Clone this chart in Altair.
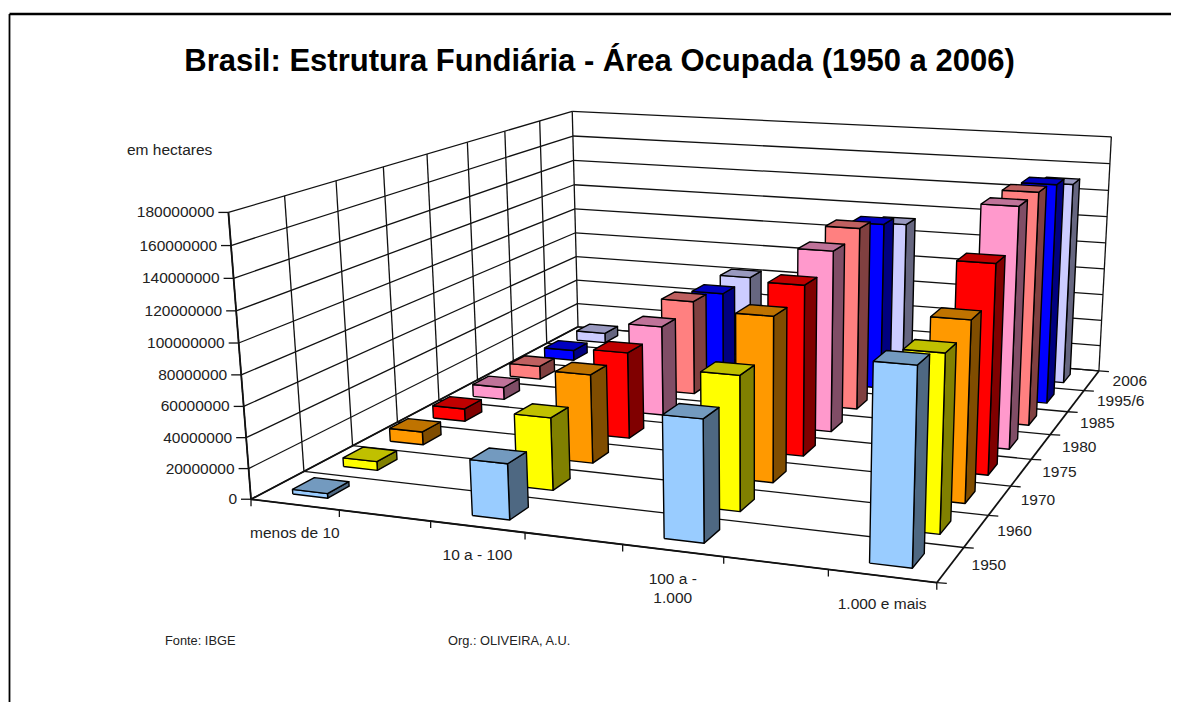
import altair as alt
import numpy as np
import pandas as pd

TITLE = "Brasil: Estrutura Fundiária - Área Ocupada (1950 a 2006)"
CATEGORIES = ["menos de 10", "10 a - 100", ["100 a -", "1.000"], "1.000 e mais"]
YEARS = ["1950", "1960", "1970", "1975", "1980", "1985", "1995/6", "2006"]
V_MENOS_10 = [3025372, 5952381, 9083495, 8982646, 9004259, 9986637, 7882194, 7798607]
V_10_100 = [35562747, 47566290, 60069704, 60171637, 64494343, 69565161, 62693585, 62893091]
V_100_1000 = [75520717, 86029455, 108742676, 115923043, 126799188, 131432667, 123541517, 112696478]
V_1000_MAIS = [118102000, 110314016, 116249591, 138818000, 164556000, 163940463, 159493949, 150143096]
VALUES = [V_MENOS_10, V_10_100, V_100_1000, V_1000_MAIS]
Z_TICKS = [0, 20000000, 40000000, 60000000, 80000000, 100000000, 120000000, 140000000, 160000000, 180000000]
COL_FRONT = ["#99CCFF", "#FFFF00", "#FF9900", "#FF0000", "#FF99CC", "#FF8080", "#0000FF", "#CCCCFF"]
COL_TOP = ["#739ABF", "#C0C000", "#BF7300", "#C00000", "#BF7399", "#BF6060", "#0000C0", "#9999BF"]
COL_SIDE = ["#4E6882", "#808000", "#804D00", "#800000", "#804D66", "#804040", "#000080", "#666680"]

W, H = 1163, 694
ZMAX = 180000000.0
NCELL = 7  # axis cells: categories sit on every other cell

# camera: 3D unit box -> page pixels
anchors3 = [(0, 0, 0), (0, 0, 1), (0, 1, 0), (0, 1, 1), (1, 1, 1), (1, 1, 0), (1, 0, 0), (3 / 7, 0, 0)]
anchors2 = [(250.7, 499.3), (228.5, 211.7), (578, 326.5), (572, 112), (1111.5, 136.7), (1099, 370.7), (936, 583), (526, 533)]
A, b = [], []
for (X, Y, Z), (u, v) in zip(anchors3, anchors2):
    A.append([X, Y, Z, 1, 0, 0, 0, 0, -u * X, -u * Y, -u * Z])
    b.append(u)
    A.append([0, 0, 0, 0, X, Y, Z, 1, -v * X, -v * Y, -v * Z])
    b.append(v)
P = np.append(np.linalg.lstsq(np.array(A, float), np.array(b, float), rcond=None)[0], 1).reshape(3, 4)


def proj(X, Y, Z):
    p = P @ np.array([X, Y, Z, 1.0])
    return float(p[0] / p[2] - 8), float(p[1] / p[2] - 8)


NC, NS = len(VALUES), len(YEARS)
BAR_W, BAR_D = 0.40, 0.42
faces = []
fid = 0
for s in range(NS - 1, -1, -1):
    for c in range(NC):
        x0 = (2 * c + 0.5 - BAR_W / 2) / NCELL
        x1 = (2 * c + 0.5 + BAR_W / 2) / NCELL
        y0 = (s + 0.5 - BAR_D / 2) / NS
        y1 = (s + 0.5 + BAR_D / 2) / NS
        z = VALUES[c][s] / ZMAX
        polys = [
            (COL_SIDE[s], [(x1, y0, 0), (x1, y1, 0), (x1, y1, z), (x1, y0, z)]),
            (COL_FRONT[s], [(x0, y0, 0), (x1, y0, 0), (x1, y0, z), (x0, y0, z)]),
            (COL_TOP[s], [(x0, y0, z), (x1, y0, z), (x1, y1, z), (x0, y1, z)]),
        ]
        for col, pts in polys:
            for i, pt in enumerate(pts + pts[:1]):
                px, py = proj(*pt)
                faces.append(dict(face=f"f{fid:04d}", pt=i, px=px, py=py, col=col))
            fid += 1
faces = pd.DataFrame(faces)

segs = []


def seg(a, b, w=1.3, off=(0, 0)):
    x, y = proj(*a)
    x2, y2 = proj(*b)
    segs.append(dict(x=x, y=y, x2=x2 + off[0], y2=y2 + off[1], w=w))


for t in Z_TICKS:
    z = t / ZMAX
    seg((0, 0, z), (0, 1, z))
    seg((0, 1, z), (1, 1, z))
    seg((0, 0, z), (0, 0, z), off=(-10, 0))
for j in range(NS + 1):
    y = j / NS
    seg((0, y, 0), (0, y, 1))
    seg((0, y, 0), (1, y, 0))
    seg((1, y, 0), (1, y, 0), off=(10, 0.6))
for i in range(NCELL + 1):
    seg((i / NCELL, 0, 0), (i / NCELL, 0, 0), off=(0, 7))
seg((0, 0, 0), (1, 0, 0), 1.8)
seg((0, 0, 0), (0, 1, 0), 1.8)
seg((1, 0, 0), (1, 1, 0), 1.8)
seg((0, 0, 0), (0, 0, 1), 1.8)
seg((1, 1, 0), (1, 1, 1))
segs = pd.DataFrame(segs)

X = alt.X("x:Q", axis=None, scale=alt.Scale(domain=[0, W], nice=False, zero=False))
Y = alt.Y("y:Q", axis=None, scale=alt.Scale(domain=[H, 0], nice=False, zero=False))

# frame
frame = pd.DataFrame([
    dict(x=1.5, y=6, x2=W, y2=6, w=2.4),
    dict(x=1.5, y=6, x2=1.5, y2=H, w=1.8),
])
frame_layer = alt.Chart(frame).mark_rule(color="black").encode(
    X, Y, x2="x2:Q", y2="y2:Q", strokeWidth=alt.StrokeWidth("w:Q", scale=None))

grid_layer = alt.Chart(segs).mark_rule(color="#111111").encode(
    X, Y, x2="x2:Q", y2="y2:Q", strokeWidth=alt.StrokeWidth("w:Q", scale=None))

bar_layer = alt.Chart(faces).mark_line(stroke="black", strokeWidth=1.4, strokeJoin="round").encode(
    x=alt.X("px:Q", axis=None, scale=alt.Scale(domain=[0, W], nice=False, zero=False)),
    y=alt.Y("py:Q", axis=None, scale=alt.Scale(domain=[H, 0], nice=False, zero=False)),
    fill=alt.Fill("col:N", scale=None),
    detail="face:N",
    order="pt:Q",
)

labels = []
for t in Z_TICKS:
    px, py = proj(0, 0, t / ZMAX)
    labels.append(dict(x=px - 14, y=py, t=str(t), a="right", s=15.5))
for i, lab in enumerate(CATEGORIES):
    px, py = proj((2 * i + 0.5) / NCELL, 0, 0)
    labels.append(dict(x=px, y=py + 28, t=lab, a="center", s=15.5))
for j, lab in enumerate(YEARS):
    px, py = proj(1, (j + 0.5) / NS, 0)
    labels.append(dict(x=px + 21, y=py, t=lab, a="left", s=15.5))
labels.append(dict(x=127 - 8, y=150 - 8, t="em hectares", a="left", s=15.5))
labels.append(dict(x=165 - 8, y=641 - 8, t="Fonte: IBGE", a="left", s=12.8))
labels.append(dict(x=448 - 8, y=641 - 8, t="Org.: OLIVEIRA, A.U.", a="left", s=12.8))
labels = pd.DataFrame(labels)


def text_layer(align):
    d = labels[labels.a == align]
    return alt.Chart(d).mark_text(align=align, baseline="middle", font="Liberation Sans", color="#222222", lineHeight=19).encode(
        X, Y, text="t", size=alt.Size("s:Q", scale=None))


chart = alt.layer(
    frame_layer, grid_layer, bar_layer,
    text_layer("right"), text_layer("center"), text_layer("left"),
).resolve_scale(x="shared", y="shared").properties(
    width=W, height=H, padding=0, background="white",
    autosize=alt.AutoSizeParams(type="none"),
    title=alt.TitleParams(TITLE, font="Liberation Sans", fontWeight="bold", fontSize=31, color="black", dy=74, dx=10),
).configure_view(stroke=None)

chart.save("out.html", embed_options={"renderer": "svg", "actions": False})
